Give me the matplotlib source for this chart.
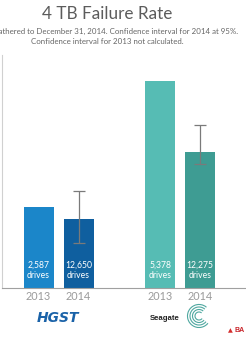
import matplotlib
matplotlib.use("Agg")
import matplotlib.pyplot as plt
from matplotlib.patches import Arc

# ---- data ----
categories = ["HGST 2013", "HGST 2014", "Seagate 2013", "Seagate 2014"]
years = ["2013", "2014", "2013", "2014"]
failure_rate = [1.49, 1.27, 3.80, 2.50]          # percent
ci_low = [None, 0.83, None, 2.28]
ci_high = [None, 1.78, None, 2.99]
drive_labels = ["2,587\ndrives", "12,650\ndrives", "5,378\ndrives", "12,275\ndrives"]
brands = ["HGST", "Seagate"]
positions = [0, 1, 3.04, 4.04]
colors = ["#1b86c9", "#0f5f9f", "#56bcb4", "#3e9c93"]

W, H = 246, 344
fig = plt.figure(figsize=(W / 100, H / 100), dpi=100)
fig.patch.set_facecolor("white")

def fx(px):
    return px / W

def fy(py):
    return 1 - py / H

ax = fig.add_axes([fx(2), fy(288), fx(244), 233 / H])
ax.bar(positions, failure_rate, width=0.75, color=colors, zorder=2)
for x, r, lo, hi in zip(positions, failure_rate, ci_low, ci_high):
    if lo is not None:
        ax.errorbar([x], [r], yerr=[[r - lo], [hi - r]], fmt="none",
                    ecolor="#7a7a7a", elinewidth=0.9, capsize=4, capthick=0.9, zorder=3)
for x, lab in zip(positions, drive_labels):
    ax.text(x, 0.15, lab, ha="center", va="bottom", color="white",
            fontsize=6.2, family="Lato", linespacing=1.15, zorder=4)

ax.set_xlim(-0.9125, 5.187)
ax.set_ylim(0, 4.28)
ax.set_xticks([])
ax.set_yticks([])
for s in ["top", "right"]:
    ax.spines[s].set_visible(False)
ax.spines["left"].set_color("#d0d0d0")
ax.spines["left"].set_linewidth(0.8)
ax.spines["bottom"].set_color("#a0a0a0")
ax.spines["bottom"].set_linewidth(0.8)

# year labels under bars
for x, y in zip(positions, years):
    ax.text(x, -0.06, y, ha="center", va="top", color="#9a9a9a",
            fontsize=7.8, family="Lato")

# title & subtitle
fig.text(fx(107), fy(14), "4 TB Failure Rate", ha="center", va="center",
         fontsize=12.3, color="#5c5c5c", family="Lato")
fig.text(fx(107), fy(31), "Data gathered to December 31, 2014. Confidence interval for 2014 at 95%.",
         ha="center", va="center", fontsize=5.7, color="#666666", family="Lato")
fig.text(fx(107), fy(41), "Confidence interval for 2013 not calculated.",
         ha="center", va="center", fontsize=5.7, color="#666666", family="Lato")

# brand logos (as text)
fig.text(fx(58), fy(318), brands[0], ha="center", va="center", fontsize=10,
         color="#1a62a8", family="DejaVu Sans", fontweight="bold", style="italic")
fig.text(fx(165), fy(318), brands[1], ha="center", va="center", fontsize=5.6,
         color="#222222", family="Liberation Sans", fontweight="bold")
# seagate swirl
cx, cy = fx(199), fy(316)
for r in [4, 6.5, 9, 11.5]:
    fig.add_artist(Arc((cx, cy), 2 * r / W, 2 * r / H, theta1=40, theta2=330,
                       transform=fig.transFigure, color="#4fa8a0", lw=0.8))

# Backblaze mark
fig.text(fx(230), fy(331), "\u25B2", ha="center", va="center", fontsize=4.5, color="#d42b2b")
fig.text(fx(234.5), fy(331), "BA", ha="left", va="center", fontsize=5, color="#c8242a",
         family="Liberation Sans", fontweight="bold")

fig.savefig("out.png", dpi=100, facecolor="white")
